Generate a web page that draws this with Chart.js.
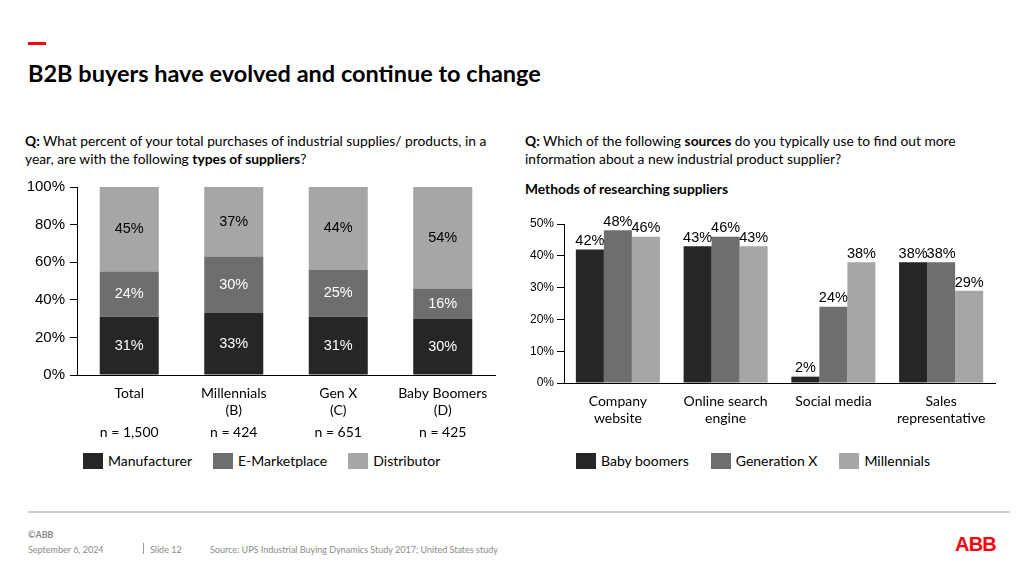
<!DOCTYPE html>
<html lang="en">
<head>
<meta charset="UTF-8">
<title>B2B buyers have evolved and continue to change</title>
<script src="https://cdn.jsdelivr.net/npm/chart.js"></script>
<style>
  body { margin: 0; width: 1024px; height: 576px; position: relative; overflow: hidden;
         background: #fff; color: #000; font-family: Lato, "Open Sans", sans-serif; }
  .accent { position: absolute; left: 28px; top: 42px; width: 18px; height: 3px; background: #ff000f; }
  h1 { position: absolute; left: 28px; top: 58px; margin: 0; font-size: 23.5px; line-height: 30px; font-weight: 700; }
  .question { position: absolute; top: 132px; margin: 0; font-size: 13.8px; line-height: 18px; }
  .subhead { position: absolute; left: 525px; top: 180px; margin: 0; font-size: 13.8px; line-height: 18px; font-weight: 700; }
  .chart-box { position: absolute; }
  .legend { position: absolute; top: 452px; display: flex; gap: 21px; font-size: 14px; line-height: 17px; }
  .legend span { display: flex; align-items: center; }
  .legend i { display: inline-block; width: 20px; height: 16px; margin-right: 5px; }
  .footer-line { position: absolute; left: 28px; top: 511px; width: 982px; height: 2px; background: #cfcfcf; }
  .foot { position: absolute; font-size: 9px; color: #8a8a8a; line-height: 12px; }
  .sep { position: absolute; left: 143px; top: 543px; width: 1px; height: 11px; background: #9a9a9a; }
  .logo { position: absolute; left: 955px; top: 534px; font-family: "Liberation Sans", Arial, sans-serif;
          font-weight: 700; font-size: 20px; line-height: 20px; color: #ff000f; letter-spacing: -0.8px; }
</style>
</head>
<body>
  <div class="accent"></div>
  <h1>B2B buyers have evolved and continue to change</h1>

  <p class="question" style="left:25px; width:490px;"><b>Q:</b> What percent of your total purchases of industrial supplies/ products, in a<br>year, are with the following <b>types of suppliers</b>?</p>
  <p class="question" style="left:525px; width:490px;"><b>Q:</b> Which of the following <b>sources</b> do you typically use to find out more<br>information about a new industrial product supplier?</p>
  <p class="subhead">Methods of researching suppliers</p>

  <div class="chart-box" style="left:0; top:170px; width:510px; height:270px;"><canvas id="suppliers"></canvas></div>
  <div class="chart-box" style="left:515px; top:205px; width:490px; height:240px;"><canvas id="sources"></canvas></div>

  <div class="legend" id="legendLeft" style="left:83px;"></div>
  <div class="legend" id="legendRight" style="left:576px; gap:22px;"></div>

  <div class="footer-line"></div>
  <div class="foot" style="left:28px; top:529px; font-weight:700;">©ABB</div>
  <div class="foot" style="left:28px; top:544px;">September 6, 2024</div>
  <div class="sep"></div>
  <div class="foot" style="left:150px; top:544px;">Slide 12</div>
  <div class="foot" style="left:210px; top:544px;">Source: UPS Industrial Buying Dynamics Study 2017; United States study</div>
  <div class="logo">ABB</div>

<script>
  // left chart: share of purchases by supplier type
  const groups = [['Total'], ['Millennials', '(B)'], ['Gen X', '(C)'], ['Baby Boomers', '(D)']];
  const sampleSizes = ['n = 1,500', 'n = 424', 'n = 651', 'n = 425'];
  const supplierTypes = ['Manufacturer', 'E-Marketplace', 'Distributor'];
  const manufacturer = [31, 33, 31, 30];
  const eMarketplace = [24, 30, 25, 16];
  const distributor = [45, 37, 44, 54];
  const shareTicks = [0, 20, 40, 60, 80, 100];

  // right chart: research sources by generation
  const sources = [['Company', 'website'], ['Online search', 'engine'], ['Social media'], ['Sales', 'representative']];
  const generations = ['Baby boomers', 'Generation X', 'Millennials'];
  const babyBoomers = [42, 43, 2, 38];
  const generationX = [48, 46, 24, 38];
  const millennials = [46, 43, 38, 29];
  const sourceTicks = [0, 10, 20, 30, 40, 50];

  const shades = ['#262626', '#6e6e6e', '#a6a6a6'];
  const tickFont = 'Liberation Sans, Arial, sans-serif';
  const textFont = 'Lato, "Open Sans", sans-serif';

  const valueLabels = {
    id: 'valueLabels',
    afterDatasetsDraw(chart, args, opts) {
      const ctx = chart.ctx;
      ctx.save();
      ctx.font = opts.font;
      ctx.textAlign = 'center';
      chart.data.datasets.forEach((ds, i) => {
        chart.getDatasetMeta(i).data.forEach((bar, j) => {
          const text = ds.data[j] + '%';
          ctx.fillStyle = opts.colors[i];
          if (opts.inside) {
            ctx.textBaseline = 'middle';
            ctx.fillText(text, bar.x, (bar.y + bar.base) / 2);
          } else {
            ctx.textBaseline = 'bottom';
            ctx.fillText(text, bar.x, bar.y - 1);
          }
        });
      });
      ctx.restore();
    }
  };

  const sampleRow = {
    id: 'sampleRow',
    afterDraw(chart, args, opts) {
      const ctx = chart.ctx;
      const x = chart.scales.x;
      ctx.save();
      ctx.font = '14px ' + textFont;
      ctx.fillStyle = '#000';
      ctx.textAlign = 'center';
      ctx.textBaseline = 'middle';
      opts.labels.forEach((t, i) => ctx.fillText(t, x.getPixelForValue(i), chart.chartArea.bottom + 57));
      ctx.restore();
    }
  };

  function makeLegend(id, names) {
    const el = document.getElementById(id);
    names.forEach((name, i) => {
      const item = document.createElement('span');
      item.innerHTML = '<i style="background:' + shades[i] + '"></i>' + name;
      el.appendChild(item);
    });
  }

  function yAxis(ticks, max, size, width, pad) {
    return {
      min: 0, max: max,
      stacked: true,
      afterFit: s => { s.width = width; },
      afterBuildTicks: s => { s.ticks = ticks.map(v => ({ value: v })); },
      ticks: { color: '#000', padding: pad, font: { family: tickFont, size: size }, callback: v => v + '%' },
      grid: { drawOnChartArea: false, tickLength: 7, color: '#000' },
      border: { display: true, color: '#000', width: 1 }
    };
  }

  Chart.defaults.animation = false;

  new Chart(document.getElementById('suppliers'), {
    type: 'bar',
    data: {
      labels: groups,
      datasets: [
        { label: supplierTypes[0], data: manufacturer, backgroundColor: shades[0] },
        { label: supplierTypes[1], data: eMarketplace, backgroundColor: shades[1] },
        { label: supplierTypes[2], data: distributor, backgroundColor: shades[2] }
      ]
    },
    options: {
      responsive: true,
      maintainAspectRatio: false,
      layout: { padding: { top: 17, right: 15, left: 0, bottom: 0 } },
      datasets: { bar: { categoryPercentage: 1, barPercentage: 0.565 } },
      plugins: {
        legend: { display: false },
        tooltip: { enabled: false },
        valueLabels: { font: '14.5px ' + tickFont, colors: ['#fff', '#fff', '#000'], inside: true },
        sampleRow: { labels: sampleSizes }
      },
      scales: {
        x: {
          stacked: true,
          afterFit: s => { s.height = 65; },
          ticks: { color: '#000', padding: 10, maxRotation: 0, font: { family: textFont, size: 14, lineHeight: 1.22 } },
          grid: { display: false, drawTicks: false },
          border: { display: true, color: '#000', width: 1 }
        },
        y: yAxis(shareTicks, 100, 15, 77, 5)
      }
    },
    plugins: [valueLabels, sampleRow]
  });

  const sourceY = yAxis(sourceTicks, 50, 12, 49, 3);
  sourceY.stacked = false;

  new Chart(document.getElementById('sources'), {
    type: 'bar',
    data: {
      labels: sources,
      datasets: [
        { label: generations[0], data: babyBoomers, backgroundColor: shades[0] },
        { label: generations[1], data: generationX, backgroundColor: shades[1] },
        { label: generations[2], data: millennials, backgroundColor: shades[2] }
      ]
    },
    options: {
      responsive: true,
      maintainAspectRatio: false,
      layout: { padding: { top: 19, right: 10, left: 0, bottom: 0 } },
      datasets: { bar: { categoryPercentage: 0.78, barPercentage: 1 } },
      plugins: {
        legend: { display: false },
        tooltip: { enabled: false },
        valueLabels: { font: '14.5px ' + tickFont, colors: ['#000', '#000', '#000'], inside: false }
      },
      scales: {
        x: {
          afterFit: s => { s.height = 62; },
          ticks: { color: '#000', padding: 10, maxRotation: 0, font: { family: textFont, size: 14, lineHeight: 1.22 } },
          grid: { display: false, drawTicks: false },
          border: { display: true, color: '#000', width: 1 }
        },
        y: sourceY
      }
    },
    plugins: [valueLabels]
  });

  makeLegend('legendLeft', supplierTypes);
  makeLegend('legendRight', generations);
</script>
</body>
</html>
